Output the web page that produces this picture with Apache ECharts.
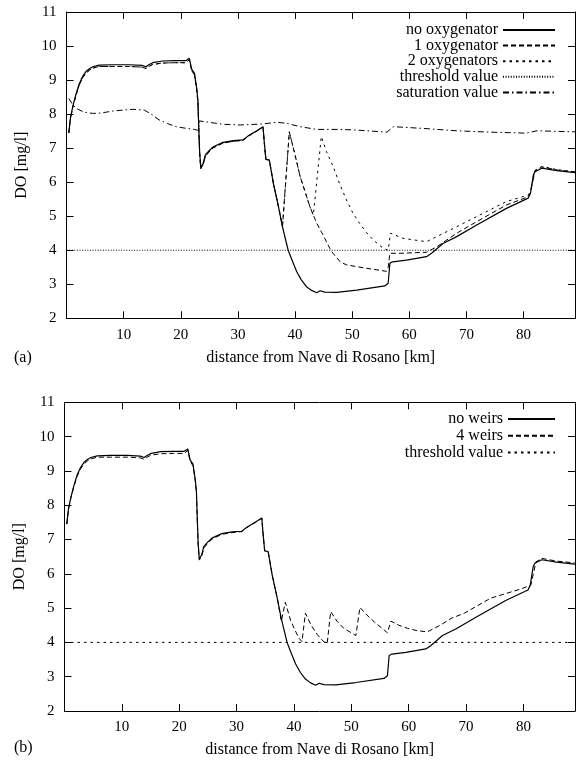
<!DOCTYPE html>
<html>
<head>
<meta charset="utf-8">
<script src="https://cdn.jsdelivr.net/npm/echarts@6/dist/echarts.min.js"></script>
<style>
html,body{margin:0;padding:0;background:#fff;}
#c{width:582px;height:763px;}
</style>
</head>
<body>
<div id="c"></div>
<script>
// ---- data (x = distance km, y = DO mg/l) ----
const xTicks = [10, 20, 30, 40, 50, 60, 70, 80];
const yTicks = [2, 3, 4, 5, 6, 7, 8, 9, 10, 11];
const legendTop = ['no oxygenator', '1 oxygenator', '2 oxygenators', 'threshold value', 'saturation value'];
// zero-width space keeps the bottom threshold entry distinct from the top one (invisible)
const legendBottom = ['no weirs', '4 weirs', 'threshold value\u200B'];
const thresholdLevel = 4;

const noOxy = [[0.4,7.45],[0.7,7.9],[1.1,8.22],[1.6,8.55],[2.2,8.88],[2.8,9.1],[3.4,9.25],[4.0,9.33],[4.6,9.39],[5.7,9.44],[8,9.45],[11,9.45],[13.2,9.43],[13.9,9.39],[14.4,9.45],[15.1,9.51],[16.8,9.56],[19,9.57],[20.9,9.57],[21.5,9.64],[21.9,9.32],[22.4,9.2],[22.8,8.75],[23.0,8.4],[23.15,7.6],[23.3,6.9],[23.5,6.43],[23.9,6.55],[24.3,6.8],[25,6.93],[25.7,7.04],[27.4,7.17],[29.2,7.22],[30.9,7.24],[31.8,7.36],[33.3,7.51],[34.4,7.63],[34.6,7.2],[34.9,6.67],[35.5,6.65],[36.2,5.97],[37.1,5.28],[37.8,4.69],[38.8,4.0],[39.5,3.7],[40.3,3.37],[41.1,3.13],[42.0,2.93],[42.9,2.82],[43.8,2.75],[44.4,2.81],[45.2,2.77],[47.3,2.76],[50.8,2.83],[55.7,2.95],[56.3,3.03],[56.6,3.62],[57.1,3.66],[59.5,3.71],[63.0,3.81],[63.9,3.91],[65.9,4.2],[68.3,4.4],[71.8,4.74],[77.0,5.23],[80.8,5.53],[81.2,5.67],[81.7,6.2],[82.0,6.31],[83.2,6.41],[85.8,6.34],[89,6.28]];

const oneOxy = [[0.4,7.45],[0.7,7.88],[1.1,8.2],[1.6,8.52],[2.2,8.84],[2.8,9.06],[3.4,9.2],[4.0,9.29],[4.6,9.35],[5.7,9.4],[8,9.4],[11,9.4],[13.2,9.38],[13.9,9.34],[14.4,9.4],[15.1,9.46],[16.8,9.5],[19,9.51],[20.9,9.51],[21.5,9.6],[21.9,9.28],[22.4,9.15],[22.8,8.7],[23.0,8.35],[23.15,7.55],[23.3,6.85],[23.5,6.4],[23.9,6.5],[24.3,6.75],[25,6.9],[25.7,7.01],[27.4,7.15],[29.2,7.2],[30.9,7.23],[31.8,7.35],[33.3,7.5],[34.4,7.62],[34.6,7.2],[34.9,6.67],[35.5,6.65],[36.2,5.97],[37.1,5.28],[37.8,4.69],[39.0,7.48],[40.0,6.8],[40.9,6.16],[41.8,5.7],[42.6,5.28],[43.8,4.79],[44.9,4.45],[46.1,4.05],[46.7,3.9],[47.9,3.66],[49.0,3.57],[52.5,3.47],[56.0,3.38],[56.3,3.5],[56.6,3.91],[58.4,3.91],[63.0,3.94],[64.8,4.1],[68.3,4.5],[71.8,4.84],[77,5.33],[80.8,5.57],[81.2,5.7],[82.0,6.33],[83.2,6.45],[85.8,6.36],[89,6.3]];

const twoOxy = [[0.4,7.45],[0.7,7.88],[1.1,8.2],[1.6,8.52],[2.2,8.84],[2.8,9.06],[3.4,9.2],[4.0,9.29],[4.6,9.35],[5.7,9.4],[8,9.4],[11,9.4],[13.2,9.38],[13.9,9.34],[14.4,9.4],[15.1,9.46],[16.8,9.5],[19,9.51],[20.9,9.51],[21.5,9.6],[21.9,9.28],[22.4,9.15],[22.8,8.7],[23.0,8.35],[23.15,7.55],[23.3,6.85],[23.5,6.4],[23.9,6.5],[24.3,6.75],[25,6.9],[25.7,7.01],[27.4,7.15],[29.2,7.2],[30.9,7.23],[31.8,7.35],[33.3,7.5],[34.4,7.62],[34.6,7.2],[34.9,6.67],[35.5,6.65],[36.2,5.97],[37.1,5.28],[37.8,4.69],[39.0,7.48],[40.0,6.8],[40.9,6.16],[41.8,5.7],[42.6,5.28],[43.2,5.03],[44.6,7.34],[45.5,6.9],[46.7,6.45],[47.8,5.95],[49.0,5.48],[50.1,5.1],[51.3,4.79],[52.5,4.52],[53.7,4.3],[55.4,4.06],[56.3,4.0],[56.7,4.5],[58.9,4.35],[63.0,4.25],[64.8,4.4],[67.7,4.64],[71.8,4.99],[77,5.43],[80.8,5.62],[81.2,5.72],[82.0,6.35],[83.2,6.46],[85.8,6.37],[89,6.3]];

const saturation = [[0.4,8.46],[1.0,8.3],[1.7,8.17],[3,8.06],[4.6,8.02],[6,8.03],[8.1,8.09],[10,8.12],[11.6,8.14],[13.6,8.12],[15,7.98],[16.2,7.83],[17.7,7.72],[19.2,7.63],[21,7.58],[22.4,7.55],[23.1,7.52],[23.25,7.8],[26.2,7.73],[27.4,7.7],[30.4,7.68],[34.4,7.71],[36.8,7.76],[38.5,7.73],[40.9,7.63],[43.8,7.55],[47.9,7.55],[50.8,7.53],[56.1,7.47],[57.2,7.63],[62.4,7.58],[68.3,7.51],[74.1,7.47],[80.5,7.44],[82.3,7.51],[88.7,7.48],[89,7.48]];

const noWeirs = [[0.4,7.45],[0.7,7.9],[1.1,8.22],[1.6,8.55],[2.2,8.88],[2.8,9.1],[3.4,9.25],[4.0,9.33],[4.6,9.39],[5.7,9.44],[8,9.45],[11,9.45],[13.2,9.43],[13.9,9.39],[14.4,9.45],[15.1,9.51],[16.8,9.56],[19,9.57],[20.9,9.57],[21.5,9.64],[21.9,9.32],[22.4,9.2],[22.8,8.75],[23.0,8.4],[23.15,7.6],[23.3,6.9],[23.5,6.43],[23.9,6.55],[24.3,6.8],[25,6.93],[25.7,7.04],[27.4,7.17],[29.2,7.22],[30.9,7.24],[31.8,7.36],[33.3,7.51],[34.4,7.63],[34.6,7.2],[34.9,6.67],[35.5,6.65],[36.2,5.97],[37.1,5.28],[37.8,4.69],[38.8,4.0],[39.5,3.7],[40.3,3.37],[41.1,3.13],[42.0,2.93],[42.9,2.82],[43.8,2.75],[44.4,2.81],[45.2,2.77],[47.3,2.76],[50.8,2.83],[55.7,2.95],[56.3,3.03],[56.6,3.62],[57.1,3.66],[59.5,3.71],[63.0,3.81],[63.9,3.91],[65.9,4.2],[68.3,4.4],[71.8,4.74],[77.0,5.23],[80.8,5.53],[81.2,5.67],[81.7,6.2],[82.0,6.31],[83.2,6.41],[85.8,6.34],[89,6.28]];

const fourWeirs = [[0.4,7.45],[0.7,7.88],[1.1,8.2],[1.6,8.52],[2.2,8.84],[2.8,9.06],[3.4,9.2],[4.0,9.29],[4.6,9.35],[5.7,9.4],[8,9.4],[11,9.4],[13.2,9.38],[13.9,9.34],[14.4,9.4],[15.1,9.46],[16.8,9.5],[19,9.51],[20.9,9.51],[21.5,9.6],[21.9,9.28],[22.4,9.15],[22.8,8.7],[23.0,8.35],[23.15,7.55],[23.3,6.85],[23.5,6.4],[23.9,6.5],[24.3,6.75],[25,6.9],[25.7,7.01],[27.4,7.15],[29.2,7.2],[30.9,7.23],[31.8,7.35],[33.3,7.5],[34.4,7.62],[34.6,7.2],[34.9,6.67],[35.5,6.65],[36.2,5.97],[37.1,5.28],[37.8,4.62],[38.5,5.17],[39.4,4.65],[40.2,4.35],[40.9,4.12],[41.4,4.02],[41.7,4.02],[42.0,4.85],[43.0,4.5],[44.1,4.22],[45.2,4.02],[45.8,3.97],[46.4,4.9],[47.5,4.62],[48.7,4.41],[50.8,4.2],[51.5,5.02],[52.7,4.8],[54.0,4.6],[56.3,4.28],[56.9,4.62],[58.3,4.5],[59.8,4.41],[61.5,4.34],[63.3,4.31],[65.5,4.5],[67.4,4.7],[69.7,4.85],[74.3,5.29],[79.6,5.56],[81.3,5.67],[82.2,6.35],[83.2,6.45],[85.8,6.37],[88.9,6.32]];

const X_MIN = 0, X_MAX = 89, Y_MIN = 2, Y_MAX = 11;

// ---- chart ----
const FONT = 'Liberation Serif';
const chart = echarts.init(document.getElementById('c'), null, {renderer: 'canvas'});
const black = '#000';

function xAxisMain(grid) {
  return {
    type: 'value', gridIndex: grid, position: 'bottom', min: X_MIN, max: X_MAX, interval: 10,
    name: 'distance from Nave di Rosano [km]', nameLocation: 'middle', nameGap: 31,
    nameTextStyle: {fontFamily: FONT, fontSize: 16, color: black},
    axisLine: {show: true, onZero: false, lineStyle: {color: black, width: 1}},
    axisTick: {show: true, inside: true, length: 7, lineStyle: {color: black}},
    axisLabel: {fontFamily: FONT, fontSize: 15, color: black, margin: 9, showMinLabel: false, showMaxLabel: false,
      formatter: v => xTicks.indexOf(v) >= 0 ? String(v) : ''},
    splitLine: {show: false}
  };
}
function xAxisTop(grid) {
  return {
    type: 'value', gridIndex: grid, position: 'top', min: X_MIN, max: X_MAX, interval: 10,
    axisLine: {show: true, onZero: false, lineStyle: {color: black, width: 1}},
    axisTick: {show: true, inside: true, length: 7, lineStyle: {color: black}},
    axisLabel: {show: false}, splitLine: {show: false}
  };
}
function yAxisMain(grid) {
  return {
    type: 'value', gridIndex: grid, position: 'left', min: Y_MIN, max: Y_MAX, interval: 1,
    name: 'DO [mg/l]', nameLocation: 'middle', nameGap: 37, nameRotate: 90,
    nameTextStyle: {fontFamily: FONT, fontSize: 16, color: black},
    axisLine: {show: true, onZero: false, lineStyle: {color: black, width: 1}},
    axisTick: {show: true, inside: true, length: 7, lineStyle: {color: black}},
    axisLabel: {fontFamily: FONT, fontSize: 15, color: black, margin: 10,
      formatter: v => yTicks.indexOf(v) >= 0 ? String(v) : ''},
    splitLine: {show: false}
  };
}
function yAxisRight(grid) {
  return {
    type: 'value', gridIndex: grid, position: 'right', min: Y_MIN, max: Y_MAX, interval: 1,
    axisLine: {show: true, onZero: false, lineStyle: {color: black, width: 1}},
    axisTick: {show: true, inside: true, length: 7, lineStyle: {color: black}},
    axisLabel: {show: false}, splitLine: {show: false}
  };
}
function line(name, data, grid, type, width) {
  return {
    name, type: 'line', data, xAxisIndex: grid, yAxisIndex: grid,
    symbol: 'none', showSymbol: false, smooth: false, silent: true,
    lineStyle: {color: black, width: width || 1, type: type || 'solid'},
    itemStyle: {color: black}
  };
}
const thresholdData = [[X_MIN, thresholdLevel], [X_MAX, thresholdLevel]];

const option = {
  backgroundColor: '#fff',
  animation: false,
  grid: [
    {left: 66.5, top: 12, width: 508.5, height: 306.3},
    {left: 64.5, top: 402.3, width: 510.5, height: 308.7}
  ],
  xAxis: [xAxisMain(0), xAxisMain(1), xAxisTop(0), xAxisTop(1)],
  yAxis: [yAxisMain(0), yAxisMain(1), yAxisRight(0), yAxisRight(1)],
  legend: [
    {
      orient: 'vertical', right: 21, top: 17, align: 'right', itemWidth: 52, itemHeight: 14, itemGap: -0.4,
      itemStyle: {opacity: 0, borderWidth: 0},
      textStyle: {fontFamily: FONT, fontSize: 16, color: black},
      data: legendTop, selectedMode: false
    },
    {
      orient: 'vertical', right: 21, top: 406, align: 'right', itemWidth: 47, itemHeight: 14, itemGap: 0.8,
      itemStyle: {opacity: 0, borderWidth: 0},
      textStyle: {fontFamily: FONT, fontSize: 16, color: black},
      data: legendBottom, selectedMode: false
    }
  ],
  graphic: [
    {type: 'text', left: 14, top: 350, style: {text: '(a)', font: '16px "Liberation Serif"', fill: black}},
    {type: 'text', left: 14, top: 740, style: {text: '(b)', font: '16px "Liberation Serif"', fill: black}}
  ],
  series: [
    line(legendTop[0], noOxy, 0, 'solid', 1.2),
    line(legendTop[1], oneOxy, 0, [5, 3], 1),
    line(legendTop[2], twoOxy, 0, [2.5, 4], 1),
    line(legendTop[3], thresholdData, 0, [1, 1.6], 1),
    line(legendTop[4], saturation, 0, [6, 3, 1.5, 3], 1),
    line(legendBottom[0], noWeirs, 1, 'solid', 1.2),
    line(legendBottom[1], fourWeirs, 1, [5, 3], 1),
    line(legendBottom[2], thresholdData, 1, [2.5, 4], 1)
  ]
};
chart.setOption(option);
</script>
</body>
</html>
